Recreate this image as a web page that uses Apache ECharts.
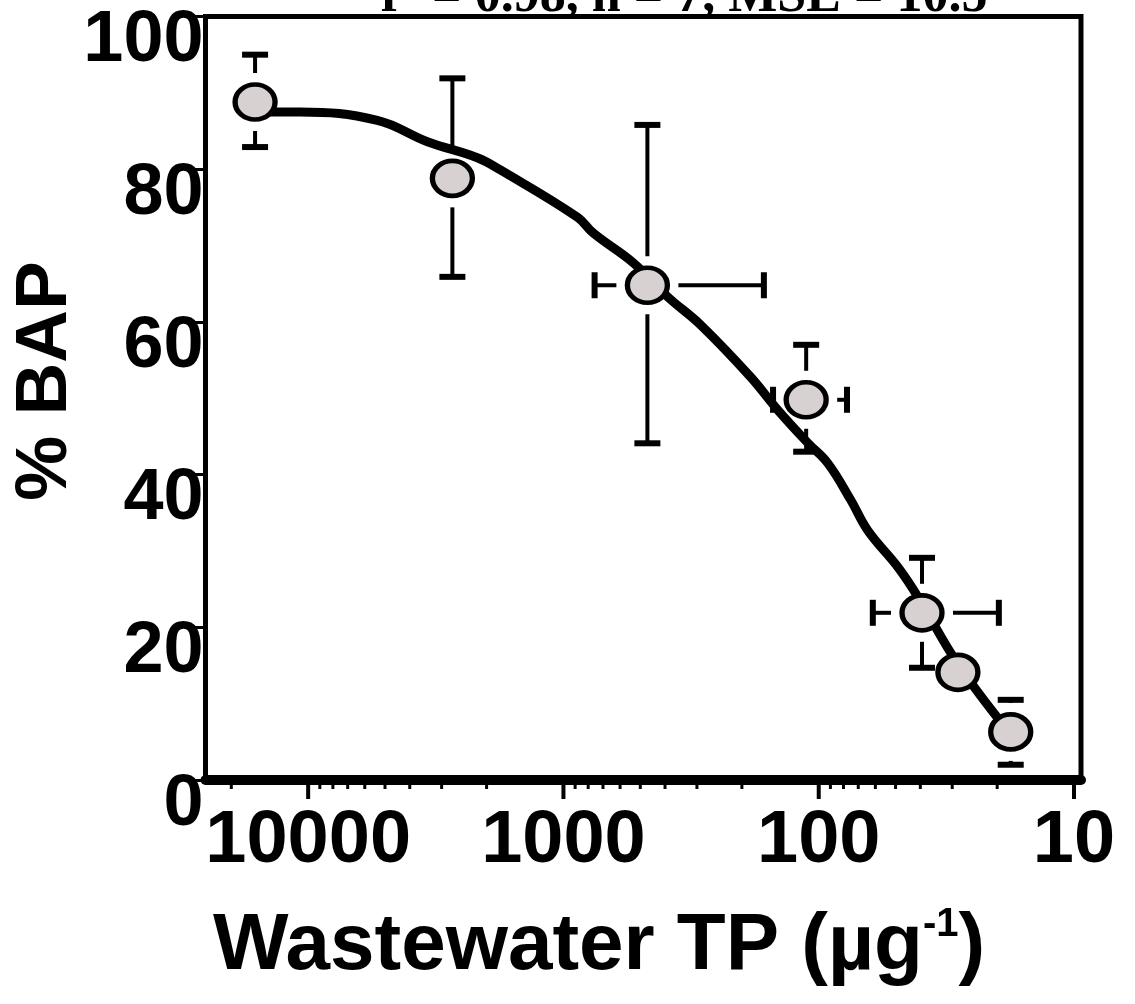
<!DOCTYPE html>
<html>
<head>
<meta charset="utf-8">
<script src="https://cdn.jsdelivr.net/npm/echarts@6/dist/echarts.min.js"></script>
<style>
html,body{margin:0;padding:0;background:#fff;}
#chart{width:1135px;height:1004px;}
</style>
</head>
<body>
<div id="chart"></div>
<script>
// ---- data ----
const titleText = 'r² = 0.98, n = 7, MSE = 10.5';
const xTitle = 'Wastewater TP (µg';
const xTitleSup = '-1';
const yTitle = '% BAP';
const majorTicks = [10000, 1000, 100, 10];
const minorTicks = [20000, 9000, 8000, 7000, 6000, 5000, 4000, 3000, 2000,
  900, 800, 700, 600, 500, 400, 300, 200, 90, 80, 70, 60, 50, 40, 30, 20];
const pointTP  = [16140, 2723, 469, 112, 39.4, 28.5, 17.7];
const pointBAP = [88.8, 78.8, 64.8, 49.8, 21.9, 14.1, 6.3];
const bapUpper = [95.0, 91.9, 85.8, 57.0, 29.1, null, 10.5];
const bapLower = [82.9, 65.9, 44.1, 43.0, 14.7, null, 2.0];
const tpLeft   = [null, null, 755, 151, 61.4, null, null];
const tpRight  = [null, null, 164, 77.5, 19.7, null, null];
const curveTP  = [15140, 10750, 5360, 3410, 2175, 1766, 881, 762, 531, 391, 290, 185, 145, 110, 92.2, 75.0, 64.3, 49.0, 40.9, 28.5, 18.2];
const curveBAP = [87.5, 87.5, 86.4, 83.6, 81.5, 79.9, 73.7, 71.6, 67.7, 63.3, 59.6, 52.8, 48.5, 44.1, 41.5, 36.7, 32.7, 27.9, 24.0, 15.2, 6.5];

const FONT = '"Liberation Sans", Arial, Helvetica, sans-serif';
const chart = echarts.init(document.getElementById('chart'), null, {renderer: 'canvas'});

function isPow10(v) {
  const l = Math.log10(v);
  return Math.abs(l - Math.round(l)) < 1e-6;
}

const option = {
  backgroundColor: '#fff',
  animation: false,
  grid: {
    left: 205.5, right: 1135 - 1081, top: 16.5, bottom: 1004 - 780,
    containLabel: false, outerBoundsMode: 'none',
    show: true, borderColor: '#000', borderWidth: 5, backgroundColor: 'transparent'
  },
  xAxis: {
    type: 'log', logBase: 10, inverse: true, min: 9.39, max: 25240,
    offset: 2,
    axisLine: {show: true, lineStyle: {color: '#000', width: 10}},
    axisTick: {show: false},
    minorTick: {show: false},
    splitLine: {show: false},
    axisLabel: {
      show: true, margin: 23, color: '#000', fontSize: 74, fontWeight: 'bold', fontFamily: FONT,
      showMinLabel: true, showMaxLabel: true, hideOverlap: false,
      formatter: function (v) { return isPow10(v) ? String(Math.round(v)) : ''; }
    }
  },
  yAxis: {
    type: 'value', min: 0, max: 100, interval: 20,
    axisLine: {show: true, lineStyle: {color: '#000', width: 5}},
    axisTick: {show: true, inside: false, length: 18, lineStyle: {color: '#000', width: 3}},
    splitLine: {show: false},
    axisLabel: {
      margin: 2, color: '#000', fontSize: 72, fontWeight: 'bold', fontFamily: FONT,
      verticalAlign: 'top', lineHeight: 50, hideOverlap: false
    }
  },
  graphic: [
    {
      type: 'text', x: 684, y: 24, silent: true,
      style: {
        text: titleText, fill: '#000', font: 'bold 52px "Liberation Serif", "Times New Roman", serif',
        align: 'center', verticalAlign: 'bottom'
      }
    },
    {
      type: 'text', x: 46, y: 381, rotation: Math.PI / 2, silent: true,
      style: {
        text: yTitle, fill: '#000', font: 'bold 73px ' + FONT,
        align: 'center', verticalAlign: 'middle'
      }
    },
    {
      type: 'text', x: 213, y: 947, silent: true,
      style: {
        text: '{m|' + xTitle + '}{s|' + xTitleSup + '}{m|)}',
        align: 'left', verticalAlign: 'middle',
        rich: {
          m: {fontSize: 80, fontWeight: 'bold', fontFamily: FONT, fill: '#000', color: '#000'},
          s: {fontSize: 40, fontWeight: 'bold', fontFamily: FONT, fill: '#000', color: '#000', padding: [0, 0, 44, 0]}
        }
      }
    }
  ],
  series: [
    {
      // x-axis major & minor ticks
      type: 'custom', name: 'ticks', clip: false, silent: true, z: 5,
      data: majorTicks.map(v => [v, 0, 1]).concat(minorTicks.map(v => [v, 0, 0])),
      renderItem: function (params, api) {
        const c = api.coord([api.value(0), 0]);
        const major = api.value(2) === 1;
        return {
          type: 'line',
          shape: {x1: c[0], y1: c[1], x2: c[0], y2: c[1] + (major ? 19 : 9)},
          style: {stroke: '#000', lineWidth: major ? 4 : 3}
        };
      }
    },
    {
      type: 'custom', name: 'error', clip: false, silent: true, z: 2,
      data: pointTP.map((x, i) => [x, pointBAP[i]]),
      renderItem: function (params, api) {
        const i = params.dataIndex;
        const c = api.coord([pointTP[i], pointBAP[i]]);
        const gy = 29, gx = 31, cap = 13;
        const kids = [];
        const bar = {stroke: '#000', lineWidth: 4};
        const capS = {stroke: '#000', lineWidth: 6};
        if (bapUpper[i] != null) {
          const p = api.coord([pointTP[i], bapUpper[i]]);
          if (p[1] < c[1] - gy) kids.push({type: 'line', shape: {x1: c[0], y1: c[1] - gy, x2: c[0], y2: p[1]}, style: bar});
          kids.push({type: 'line', shape: {x1: c[0] - cap, y1: p[1], x2: c[0] + cap, y2: p[1]}, style: capS});
        }
        if (bapLower[i] != null) {
          const p = api.coord([pointTP[i], bapLower[i]]);
          if (p[1] > c[1] + gy) kids.push({type: 'line', shape: {x1: c[0], y1: c[1] + gy, x2: c[0], y2: p[1]}, style: bar});
          kids.push({type: 'line', shape: {x1: c[0] - cap, y1: p[1], x2: c[0] + cap, y2: p[1]}, style: capS});
        }
        if (tpLeft[i] != null) {
          const p = api.coord([tpLeft[i], pointBAP[i]]);
          if (p[0] < c[0] - gx) kids.push({type: 'line', shape: {x1: c[0] - gx, y1: c[1], x2: p[0], y2: c[1]}, style: bar});
          kids.push({type: 'line', shape: {x1: p[0], y1: c[1] - cap, x2: p[0], y2: c[1] + cap}, style: capS});
        }
        if (tpRight[i] != null) {
          const p = api.coord([tpRight[i], pointBAP[i]]);
          if (p[0] > c[0] + gx) kids.push({type: 'line', shape: {x1: c[0] + gx, y1: c[1], x2: p[0], y2: c[1]}, style: bar});
          kids.push({type: 'line', shape: {x1: p[0], y1: c[1] - cap, x2: p[0], y2: c[1] + cap}, style: capS});
        }
        return {type: 'group', children: kids};
      }
    },
    {
      type: 'line', name: 'fit', z: 3, silent: true,
      data: curveTP.map((x, i) => [x, curveBAP[i]]),
      showSymbol: false, symbol: 'none', smooth: 0.4,
      lineStyle: {color: '#000', width: 9, cap: 'round', join: 'round'}
    },
    {
      type: 'scatter', name: 'BAP', z: 4, silent: true,
      data: pointTP.map((x, i) => [x, pointBAP[i]]),
      symbol: 'circle', symbolSize: [40, 35],
      itemStyle: {color: '#d8d1d2', borderColor: '#000', borderWidth: 5, opacity: 1}
    }
  ]
};
chart.setOption(option);
</script>
</body>
</html>
